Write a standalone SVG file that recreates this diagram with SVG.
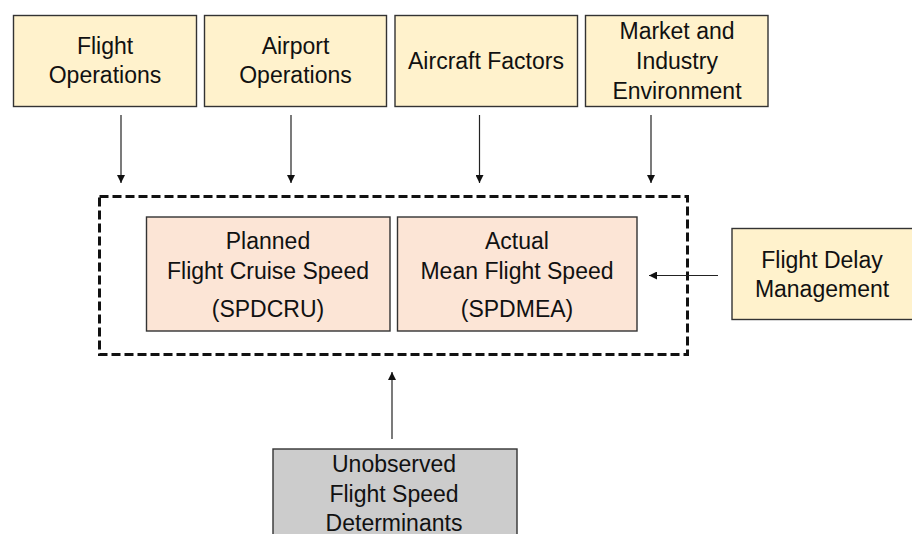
<svg xmlns="http://www.w3.org/2000/svg" width="912" height="534" viewBox="0 0 912 534">
<defs>
<style>
.y{fill:#fff2cc;stroke:#333;stroke-width:1.4}
.p{fill:#fce5d6;stroke:#333;stroke-width:1.4}
.g{fill:#cccccc;stroke:#333;stroke-width:1.4}
text{font-family:"Liberation Sans",Arial,sans-serif;font-size:23px;fill:#111;text-anchor:middle}
.c{stroke:#222;stroke-width:1.2;fill:none}
</style>
<marker id="ah" viewBox="0 0 10 10" refX="10" refY="5" markerWidth="8" markerHeight="8" markerUnits="userSpaceOnUse" orient="auto">
<path d="M0,0 L10,5 L0,10 z" fill="#111"/>
</marker>
</defs>
<rect width="912" height="534" fill="#fff"/>
<g id="flight-operations"><rect class="y" x="13.5" y="15.5" width="183" height="91"/><text x="105" y="54">Flight</text><text x="105" y="83">Operations</text></g>
<g id="airport-operations"><rect class="y" x="204.5" y="15.5" width="182" height="91"/><text x="295.5" y="54">Airport</text><text x="295.5" y="83">Operations</text></g>
<g id="aircraft-factors"><rect class="y" x="395" y="15.5" width="182.5" height="91"/><text x="486" y="69">Aircraft Factors</text></g>
<g id="market"><rect class="y" x="585.5" y="15.5" width="182.5" height="91"/><text x="677" y="39">Market and</text><text x="677" y="69">Industry</text><text x="677" y="99">Environment</text></g>
<g id="speed-group"><rect x="99.5" y="196.5" width="588" height="158" fill="none" stroke="#111" stroke-width="3" stroke-dasharray="9 4"/></g>
<g id="planned"><rect class="p" x="146.5" y="217" width="243.5" height="114"/><text x="268" y="249">Planned</text><text x="268" y="279">Flight Cruise Speed</text><text x="268" y="317">(SPDCRU)</text></g>
<g id="actual"><rect class="p" x="397.5" y="217" width="239.5" height="114"/><text x="517" y="249">Actual</text><text x="517" y="279">Mean Flight Speed</text><text x="517" y="317">(SPDMEA)</text></g>
<g id="flight-delay"><rect class="y" x="732" y="228.5" width="184" height="91"/><text x="822" y="268">Flight Delay</text><text x="822" y="297">Management</text></g>
<g id="unobserved"><rect class="g" x="273" y="449" width="244" height="100"/><text x="394" y="472">Unobserved</text><text x="394" y="501.5">Flight Speed</text><text x="394" y="531">Determinants</text></g>
<g id="connectors">
<line class="c" x1="121" y1="115" x2="121" y2="183" marker-end="url(#ah)"/>
<line class="c" x1="291" y1="115" x2="291" y2="183" marker-end="url(#ah)"/>
<line class="c" x1="479.5" y1="115" x2="479.5" y2="183" marker-end="url(#ah)"/>
<line class="c" x1="651" y1="115" x2="651" y2="183" marker-end="url(#ah)"/>
<line class="c" x1="718" y1="275.5" x2="649" y2="275.5" marker-end="url(#ah)"/>
<line class="c" x1="392" y1="439" x2="392" y2="372" marker-end="url(#ah)"/>
</g>
</svg>
